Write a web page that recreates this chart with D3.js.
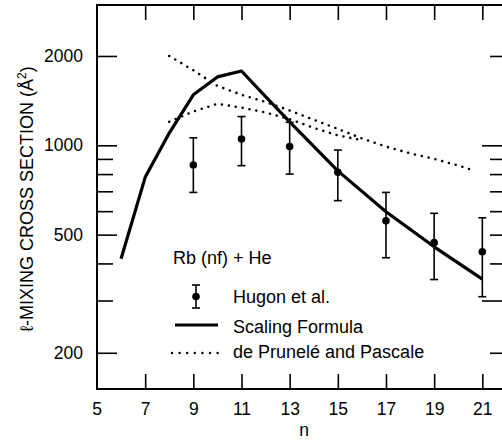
<!DOCTYPE html>
<html>
<head>
<meta charset="utf-8">
<script src="https://cdn.jsdelivr.net/npm/d3@7"></script>
<style>
  body { margin: 0; background: #fff; }
  svg { display: block; font-family: "Liberation Sans", Arial, sans-serif; }
  .axis path { display: none; }
  .axis line { stroke: #000; stroke-width: 1.6; }
  .axis text { font-size: 17.5px; fill: #000; }
</style>
</head>
<body>
<script>
// x ticks (n) and y ticks (cross section, log scale)
var nTicks = [5, 7, 9, 11, 13, 15, 17, 19, 21];
var yLabelTicks = [200, 500, 1000, 2000];
var yMinorTicks = [300, 400, 600, 700, 800, 900];

// Hugon et al. measurements with error bars
var hugonN = [9, 11, 13, 15, 17, 19, 21];
var hugonVal = [858, 1050, 990, 811, 557, 470, 438];
var hugonLow = [694, 854, 800, 651, 418, 353, 309];
var hugonHigh = [1060, 1250, 1195, 964, 694, 590, 570];

// Scaling formula (solid line)
var scalingN = [6, 7, 8, 9, 10, 11, 12, 13, 15, 17, 19, 21];
var scalingVal = [415, 780, 1100, 1480, 1700, 1780, 1460, 1200, 820, 597, 455, 354];

// de Prunele and Pascale (two dotted curves)
var prunUpperN = [8, 9, 10, 11, 12, 13, 14, 15, 16, 17, 18, 19, 20, 20.7];
var prunUpperVal = [2000, 1790, 1585, 1480, 1400, 1310, 1220, 1135, 1055, 990, 940, 900, 855, 820];
var prunLowerN = [8, 9, 10, 11, 12, 13, 14, 15, 16];
var prunLowerVal = [1200, 1300, 1380, 1340, 1290, 1225, 1145, 1080, 1040];

var svgWidth = 502;
var svgHeight = 440;

var svg = d3.select("body")
  .append("svg")
  .attr("width", svgWidth)
  .attr("height", svgHeight);

// Scales
var xScale = d3.scaleLinear()
  .domain([5, 21.9])
  .range([97, 504]);

var yScale = d3.scaleLog()
  .domain([151, 2970])
  .range([389, 5]);

var plotTop = yScale.range()[1];
var plotBottom = yScale.range()[0];
var plotLeft = xScale.range()[0];
var plotRight = xScale.range()[1];

// Frame
svg.append("rect")
  .attr("x", plotLeft)
  .attr("y", plotTop)
  .attr("width", plotRight - plotLeft)
  .attr("height", plotBottom - plotTop)
  .attr("fill", "none")
  .attr("stroke", "#000")
  .attr("stroke-width", 2);

// Bottom axis with labels
svg.append("g")
  .classed("axis", true)
  .attr("transform", `translate(0, ${plotBottom})`)
  .call(d3.axisBottom(xScale).tickValues(nTicks.slice(1)).tickSize(-15).tickPadding(14).tickFormat(d3.format("d")));

svg.append("text")
  .attr("x", xScale(5))
  .attr("y", plotBottom + 14)
  .attr("dy", "0.71em")
  .attr("text-anchor", "middle")
  .style("font-size", "17.5px")
  .text("5");

// Top ticks
svg.append("g")
  .classed("axis", true)
  .attr("transform", `translate(0, ${plotTop})`)
  .call(d3.axisTop(xScale).tickValues(nTicks.slice(1)).tickSize(-15).tickFormat(""));

// Left axis: labelled ticks, then minor ticks
svg.append("g")
  .classed("axis", true)
  .attr("transform", `translate(${plotLeft}, 0)`)
  .call(d3.axisLeft(yScale).tickValues(yLabelTicks).tickSize(-20).tickPadding(14).tickFormat(d3.format("d")));

svg.append("g")
  .classed("axis", true)
  .attr("transform", `translate(${plotLeft}, 0)`)
  .call(d3.axisLeft(yScale).tickValues(yMinorTicks).tickSize(-16).tickFormat(""));

// Right ticks
svg.append("g")
  .classed("axis", true)
  .attr("transform", `translate(${plotRight}, 0)`)
  .call(d3.axisRight(yScale).tickValues([1000, 300]).tickSize(-22).tickFormat(""));

svg.append("g")
  .classed("axis", true)
  .attr("transform", `translate(${plotRight}, 0)`)
  .call(d3.axisRight(yScale).tickValues([2000, 900, 800, 700, 600, 500, 400, 200]).tickSize(-14).tickFormat(""));

// Axis titles
svg.append("text")
  .attr("x", 304)
  .attr("y", 436)
  .attr("text-anchor", "middle")
  .style("font-size", "17.5px")
  .text("n");

var yTitle = svg.append("text")
  .attr("transform", "translate(27, 199) rotate(-90)")
  .attr("dy", "0.35em")
  .attr("text-anchor", "middle")
  .style("font-size", "18px");
yTitle.append("tspan").text("\u2113-MIXING CROSS SECTION (\u00C5");
yTitle.append("tspan").attr("dy", -7).style("font-size", "12px").text("2");
yTitle.append("tspan").attr("dy", 7).text(")");

// Lines
var drawLine = d3.line()
  .x(d => xScale(d[0]))
  .y(d => yScale(d[1]));

svg.append("path")
  .attr("d", drawLine(d3.zip(scalingN, scalingVal)))
  .attr("fill", "none")
  .attr("stroke", "#000")
  .attr("stroke-width", 3.2)
  .attr("stroke-linejoin", "round");

[[prunUpperN, prunUpperVal], [prunLowerN, prunLowerVal]].forEach(function(c) {
  svg.append("path")
    .attr("d", drawLine(d3.zip(c[0], c[1])))
    .attr("fill", "none")
    .attr("stroke", "#000")
    .attr("stroke-width", 2.6)
    .attr("stroke-linecap", "round")
    .attr("stroke-dasharray", "0 7");
});

// Hugon error bars and points
var hugon = hugonN.map((n, i) => ({ n: n, v: hugonVal[i], lo: hugonLow[i], hi: hugonHigh[i] }));

var bars = svg.selectAll(".err")
  .data(hugon)
  .enter()
  .append("g")
  .attr("class", "err")
  .attr("stroke", "#000")
  .attr("stroke-width", 1.6);

bars.append("line")
  .attr("x1", d => xScale(d.n)).attr("x2", d => xScale(d.n))
  .attr("y1", d => yScale(d.lo)).attr("y2", d => yScale(d.hi));
bars.append("line")
  .attr("x1", d => xScale(d.n) - 4).attr("x2", d => xScale(d.n) + 4)
  .attr("y1", d => yScale(d.lo)).attr("y2", d => yScale(d.lo));
bars.append("line")
  .attr("x1", d => xScale(d.n) - 4).attr("x2", d => xScale(d.n) + 4)
  .attr("y1", d => yScale(d.hi)).attr("y2", d => yScale(d.hi));

svg.selectAll(".pt")
  .data(hugon)
  .enter()
  .append("circle")
  .attr("class", "pt")
  .attr("cx", d => xScale(d.n))
  .attr("cy", d => yScale(d.v))
  .attr("r", 3.8)
  .attr("fill", "#000");

// Legend
var legend = svg.append("g").style("font-size", "18px");

legend.append("text")
  .attr("x", 173).attr("y", 258).attr("dy", "0.35em")
  .text("Rb (nf) + He");

legend.append("line")
  .attr("x1", 196).attr("x2", 196).attr("y1", 285).attr("y2", 308)
  .attr("stroke", "#000").attr("stroke-width", 1.6);
legend.append("line")
  .attr("x1", 192).attr("x2", 200).attr("y1", 285).attr("y2", 285)
  .attr("stroke", "#000").attr("stroke-width", 1.6);
legend.append("line")
  .attr("x1", 192).attr("x2", 200).attr("y1", 308).attr("y2", 308)
  .attr("stroke", "#000").attr("stroke-width", 1.6);
legend.append("circle")
  .attr("cx", 196).attr("cy", 296.5).attr("r", 3.8).attr("fill", "#000");
legend.append("text")
  .attr("x", 233).attr("y", 297).attr("dy", "0.35em")
  .text("Hugon et al.");

legend.append("line")
  .attr("x1", 175).attr("x2", 218).attr("y1", 325).attr("y2", 325)
  .attr("stroke", "#000").attr("stroke-width", 3.2);
legend.append("text")
  .attr("x", 233).attr("y", 327).attr("dy", "0.35em")
  .text("Scaling Formula");

legend.append("line")
  .attr("x1", 172).attr("x2", 218).attr("y1", 353).attr("y2", 353)
  .attr("stroke", "#000").attr("stroke-width", 2.4)
  .attr("stroke-linecap", "round").attr("stroke-dasharray", "0 7.6");
legend.append("text")
  .attr("x", 233).attr("y", 352).attr("dy", "0.35em")
  .text("de Prunel\u00E9 and Pascale");
</script>
</body>
</html>
